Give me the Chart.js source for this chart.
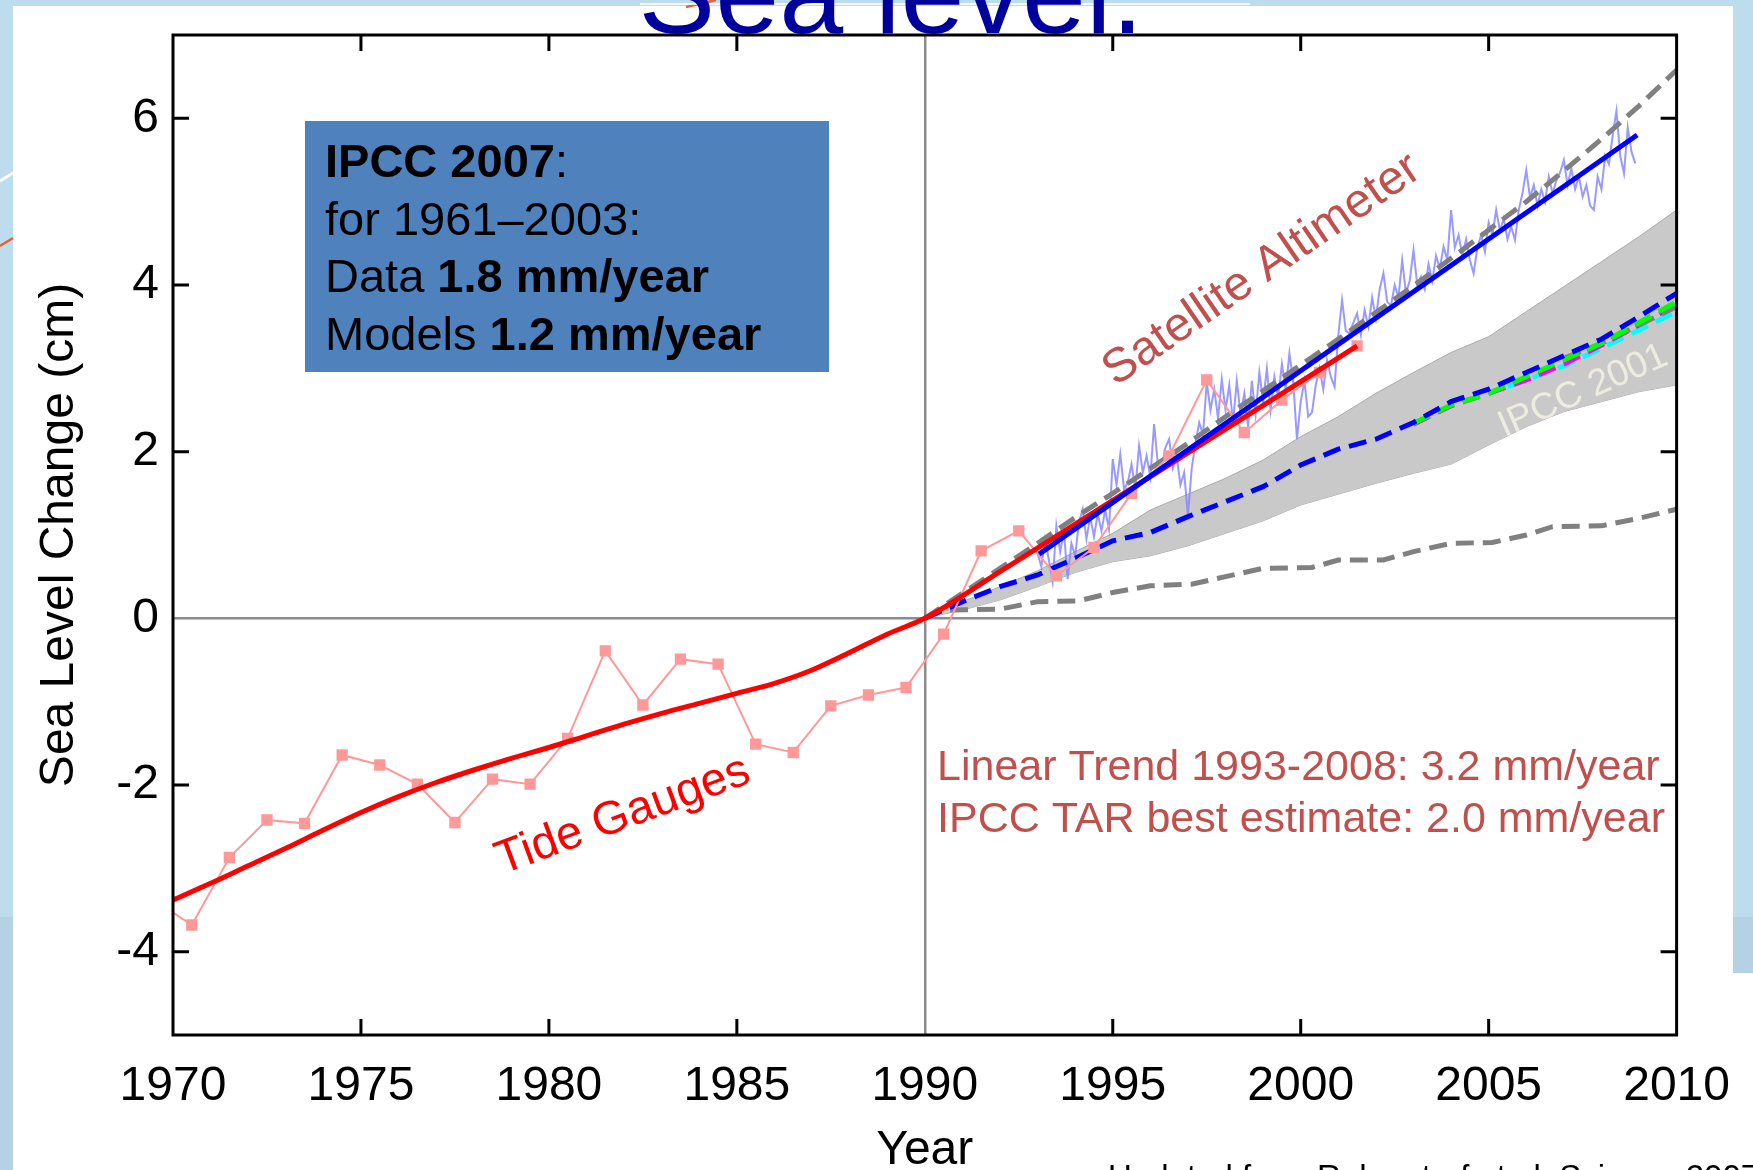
<!DOCTYPE html>
<html><head><meta charset="utf-8">
<script src="https://cdn.jsdelivr.net/npm/chart.js@4.4.1/dist/chart.umd.min.js"></script>
<style>html,body{margin:0;padding:0;background:#fff;}canvas{display:block;}</style>
</head><body>
<canvas id="c" width="1753" height="1170"></canvas>
<script>
// ---------------- DATA ----------------
const yTickValues = [-4, -2, 0, 2, 4, 6];

// Tide gauge annual values (pink squares)
const tideYears = [1969.5,1970.5,1971.5,1972.5,1973.5,1974.5,1975.5,1976.5,1977.5,1978.5,1979.5,1980.5,1981.5,1982.5,1983.5,1984.5,1985.5,1986.5,1987.5,1988.5,1989.5,1990.5,1991.5,1992.5,1993.5,1994.5,1995.5,1996.5,1997.5,1998.5,1999.5,2000.5,2001.5];
const tideValues = [-3.38,-3.68,-2.87,-2.42,-2.46,-1.64,-1.76,-1.99,-2.45,-1.93,-1.99,-1.44,-0.39,-1.04,-0.49,-0.55,-1.51,-1.61,-1.05,-0.92,-0.83,-0.19,0.81,1.05,0.51,0.85,1.50,1.95,2.86,2.23,2.62,2.95,3.27];

// Smoothed tide gauge curve (red)
const tideFitYears = [1970,1971,1972,1973,1974,1975,1976,1977,1978,1979,1980,1981,1982,1983,1984,1985,1986,1987,1988,1989,1990,1992,1994,1996,1998,2000,2001.5];
const tideFitValues = [-3.38,-3.18,-2.97,-2.76,-2.54,-2.33,-2.14,-1.97,-1.82,-1.68,-1.55,-1.41,-1.27,-1.14,-1.02,-0.90,-0.78,-0.62,-0.41,-0.19,0.0,0.56,1.13,1.70,2.27,2.84,3.27];

// Satellite altimeter series (light blue), one value every 0.1 year from 1993.0
const satStartYear = 1993.0;
const satStep = 0.1;
const satValues = [
 0.78,0.62,0.95,0.70,0.44,1.11,0.80,1.05,0.47,0.90,
 0.75,1.15,1.31,0.95,1.22,0.98,1.25,1.05,1.30,1.07,
 1.91,1.60,1.97,1.55,1.63,1.85,1.55,2.07,1.75,1.95,
 1.70,2.33,1.85,1.80,2.05,2.15,1.80,1.95,1.60,1.75,
 1.23,1.80,2.10,2.35,2.20,2.83,2.50,2.75,2.40,2.87,
 2.50,2.80,2.35,2.85,2.45,2.70,2.30,2.85,2.45,2.95,
 2.60,3.00,2.50,2.90,2.65,3.05,2.75,3.18,2.85,2.15,
 2.60,2.85,2.42,2.47,2.80,3.00,2.75,3.10,2.90,2.78,
 3.40,3.82,3.45,3.42,3.55,3.66,3.40,3.70,3.50,3.85,
 3.60,3.95,4.14,3.80,3.75,4.00,3.85,4.30,3.90,4.05,
 4.42,4.00,4.10,3.95,4.25,4.05,4.35,4.20,4.46,4.30,
 4.90,4.45,4.60,4.35,4.55,4.30,4.14,4.45,4.60,4.40,
 4.75,4.60,4.90,4.65,4.80,4.55,4.70,4.54,4.90,5.10,
 5.38,5.05,5.20,4.95,5.15,5.00,5.30,5.10,5.25,5.35,
 5.50,5.20,5.40,5.15,5.30,5.06,5.20,4.95,4.90,5.30,
 5.15,5.55,5.45,5.80,6.09,5.55,5.34,5.89,5.60,5.46
];

// Satellite linear trend (blue solid)
const satTrendYears = [1993.04, 2008.95];
const satTrendValues = [0.77, 5.80];

// IPCC 2001 projections (yearly from 1990)
const modelYears = [1990,1991,1992,1993,1994,1995,1996,1997,1998,1999,2000,2001,2002,2003,2004,2005,2006,2007,2008,2009,2010];
const bandUpper   = [0,0.20,0.38,0.57,0.80,1.02,1.30,1.49,1.68,1.90,2.18,2.42,2.70,2.95,3.19,3.38,3.68,3.98,4.28,4.58,4.90];
const bandLower   = [0,0.10,0.22,0.38,0.55,0.68,0.75,0.87,1.02,1.17,1.36,1.49,1.62,1.74,1.85,2.08,2.30,2.48,2.60,2.72,2.80];
const modelCentral= [0,0.20,0.38,0.52,0.72,0.93,1.03,1.22,1.40,1.58,1.84,2.03,2.15,2.35,2.60,2.75,2.95,3.15,3.35,3.62,3.90];
const upperDashed = [0,0.30,0.60,0.90,1.21,1.50,1.80,2.10,2.42,2.73,3.04,3.35,3.67,3.99,4.32,4.66,5.00,5.37,5.75,6.15,6.58];

const lowerDashYears  = [1990,1990.5,1992,1993,1994.1,1995,1996,1997.1,1998,1999,2000.3,2001,2002.2,2003,2004,2005.1,2006,2006.7,2008,2009,2010];
const lowerDashValues = [0,0.10,0.11,0.20,0.21,0.31,0.39,0.41,0.50,0.60,0.61,0.70,0.70,0.80,0.90,0.91,1.00,1.10,1.11,1.20,1.31];

// Recent model runs (coloured dashes)
const runYears     = [2003,2004,2005,2006,2007,2008,2009,2010];
const greenValues  = [2.34,2.56,2.70,2.90,3.10,3.30,3.55,3.80];
const magentaValues= [2.33,2.55,2.70,2.86,3.05,3.28,3.52,3.76];
const grayRunYears = [2007,2008,2009,2010];
const grayRunValues= [3.12,3.30,3.52,3.74];
const cyanYears    = [2005.5,2006,2007,2008,2009,2010];
const cyanValues   = [2.78,2.86,3.03,3.24,3.46,3.68];

// ---------------- HELPERS ----------------
const pts = (xs, ys) => xs.map((x, i) => ({x: x, y: ys[i]}));
const satPoints = satValues.map((v, i) => ({x: +(satStartYear + i * satStep).toFixed(2), y: v}));
const FONT = "'Liberation Sans', Arial, sans-serif";
const DASH = [18, 9];

function line(label, data, color, width, order, extra) {
  return Object.assign({label, data, borderColor: color, borderWidth: width, pointRadius: 0,
    fill: false, tension: 0, order, clip: 0}, extra || {});
}

// ---------------- PLUGINS ----------------
const bgPlugin = {
  id: 'bg',
  beforeDraw(chart) {
    const c = chart.ctx;
    c.save();
    c.fillStyle = '#bddced'; c.fillRect(0, 0, 1753, 1170);
    c.fillStyle = '#b5d1e5'; c.fillRect(0, 917, 13, 253);
    c.fillStyle = '#ffffff'; c.fillRect(13, 6, 1720, 1164);
    c.fillStyle = '#b5d1e5'; c.fillRect(1733, 917, 20, 56);
    c.fillStyle = '#ffffff'; c.fillRect(1733, 973, 20, 197);
    // slide decorations
    c.strokeStyle = '#ffffff'; c.lineWidth = 3;
    c.beginPath(); c.moveTo(0, 181); c.lineTo(13, 173); c.stroke();
    c.strokeStyle = '#e8602c'; c.lineWidth = 2.5;
    c.beginPath(); c.moveTo(0, 246); c.lineTo(13, 238); c.stroke();
    c.beginPath(); c.moveTo(686, 7); c.lineTo(716, 0); c.stroke();
    c.strokeStyle = 'rgba(255,255,255,0.8)'; c.lineWidth = 2;
    c.beginPath(); c.moveTo(640, 4); c.lineTo(1250, 4); c.stroke();
    c.restore();
  }
};

function richLine(c, segs, x, y, size) {
  let cx = x;
  segs.forEach(s => {
    c.font = (s.b ? 'bold ' : '') + size + 'px ' + FONT;
    c.fillText(s.t, cx, y);
    cx += c.measureText(s.t).width;
  });
}

function rotText(c, text, x, y, angleDeg, size, color) {
  c.save();
  c.translate(x, y);
  c.rotate(angleDeg * Math.PI / 180);
  c.font = size + 'px ' + FONT;
  c.fillStyle = color;
  c.textAlign = 'center';
  c.textBaseline = 'middle';
  c.fillText(text, 0, 0);
  c.restore();
}

const overlayPlugin = {
  id: 'overlay',
  afterDraw(chart) {
    const c = chart.ctx;
    const a = chart.chartArea;
    const xs = chart.scales.x, ys = chart.scales.y;
    c.save();
    // frame
    c.strokeStyle = '#000'; c.lineWidth = 3;
    c.strokeRect(a.left, a.top, a.right - a.left, a.bottom - a.top);
    // inward ticks
    const TL = 16;
    c.lineWidth = 3;
    xs.ticks.forEach(t => {
      if (t.value <= 1970 || t.value >= 2010 || t.value === 1990) return;
      const px = xs.getPixelForValue(t.value);
      c.beginPath();
      c.moveTo(px, a.bottom); c.lineTo(px, a.bottom - TL);
      c.moveTo(px, a.top); c.lineTo(px, a.top + TL);
      c.stroke();
    });
    ys.ticks.forEach(t => {
      if (t.value === 0) return;
      const py = ys.getPixelForValue(t.value);
      c.beginPath();
      c.moveTo(a.left, py); c.lineTo(a.left + TL, py);
      c.moveTo(a.right, py); c.lineTo(a.right - TL, py);
      c.stroke();
    });

    // slide title (partly cut off by the top)
    c.fillStyle = '#00009c';
    c.font = '115px ' + FONT;
    c.textAlign = 'center';
    c.textBaseline = 'alphabetic';
    c.fillText('Sea level.', 891, 33);

    // info box
    c.fillStyle = '#4f81bd';
    c.fillRect(305, 121, 524, 251);
    c.fillStyle = '#000';
    c.textAlign = 'left';
    richLine(c, [{t: 'IPCC 2007', b: true}, {t: ':', b: false}], 325, 177, 47);
    richLine(c, [{t: 'for 1961\u20132003:', b: false}], 325, 235, 47);
    richLine(c, [{t: 'Data ', b: false}, {t: '1.8 mm/year', b: true}], 325, 292, 47);
    richLine(c, [{t: 'Models ', b: false}, {t: '1.2 mm/year', b: true}], 325, 350, 47);

    // annotations
    rotText(c, 'Satellite Altimeter', 1262, 270, -34.5, 48, '#c0504d');
    rotText(c, 'Tide Gauges', 623, 816, -20.3, 47, '#ff0000');
    rotText(c, 'IPCC 2001', 1583, 391, -24, 37, '#eeece1');

    c.fillStyle = '#c0504d';
    c.font = '43px ' + FONT;
    c.textAlign = 'left';
    c.fillText('Linear Trend 1993-2008: 3.2 mm/year', 937, 780);
    c.fillText('IPCC TAR best estimate: 2.0 mm/year', 937, 832);

    // source line (mostly below the visible area)
    c.fillStyle = '#000';
    c.font = '33px ' + FONT;
    c.fillText('Updated from Rahmstorf et al. Science 2007', 1108, 1188);
    c.restore();
  }
};

// ---------------- CHART ----------------
new Chart(document.getElementById('c'), {
  type: 'line',
  data: {
    datasets: [
      line('IPCC 2001 lower', pts(modelYears, bandLower), '#a9a9a9', 1, 100),
      line('IPCC 2001 upper', pts(modelYears, bandUpper), '#a9a9a9', 1, 99, {fill: '-1', backgroundColor: '#c9c9c9'}),
      line('Lower projection', pts(lowerDashYears, lowerDashValues), '#808080', 5, 90, {borderDash: DASH}),
      line('Satellite altimeter', satPoints, 'rgba(135,135,255,0.85)', 2, 80),
      line('Upper projection', pts(modelYears, upperDashed), '#808080', 5, 75, {borderDash: DASH}),
      line('Run cyan', pts(cyanYears, cyanValues), '#00ffff', 5, 70, {borderDash: DASH}),
      line('Run magenta', pts(runYears, magentaValues), '#ff00ff', 5, 69, {borderDash: DASH}),
      line('Run gray', pts(grayRunYears, grayRunValues), '#808080', 5, 68.5, {borderDash: DASH}),
      line('Run green', pts(runYears, greenValues), '#00ff00', 5, 68, {borderDash: DASH}),
      line('Model central', pts(modelYears, modelCentral), '#0000ff', 5, 65, {borderDash: DASH}),
      line('Tide gauges', pts(tideYears, tideValues), '#ff9999', 2, 60,
        {pointRadius: 8, pointStyle: 'rect', pointBackgroundColor: '#ff9999', pointBorderWidth: 0}),
      line('Tide gauge fit', pts(tideFitYears, tideFitValues), '#ff0000', 5, 50, {cubicInterpolationMode: 'monotone'}),
      line('Satellite trend', pts(satTrendYears, satTrendValues), '#0000ff', 5, 40)
    ]
  },
  options: {
    responsive: false,
    animation: false,
    devicePixelRatio: 1,
    layout: {padding: {left: 0, top: 35, right: 75, bottom: 0}},
    plugins: {legend: {display: false}, tooltip: {enabled: false}},
    scales: {
      x: {
        type: 'linear', min: 1970, max: 2010,
        ticks: {stepSize: 5, color: '#000', padding: 23, maxRotation: 0, autoSkip: false,
          font: {family: FONT, size: 48}, callback: v => String(v)},
        grid: {drawTicks: false, lineWidth: 2.5,
          color: ctx => (ctx.tick && ctx.tick.value === 1990) ? '#8c8c8c' : 'rgba(0,0,0,0)'},
        border: {display: false},
        title: {display: true, text: 'Year', color: '#000', font: {family: FONT, size: 48, lineHeight: 0.75},
          padding: {top: 0, bottom: 1}},
        afterFit: s => { s.height = 135; }
      },
      y: {
        min: -5, max: 7,
        afterBuildTicks: s => { s.ticks = yTickValues.map(v => ({value: v})); },
        ticks: {color: '#000', padding: 14, font: {family: FONT, size: 48, lineHeight: 0.5}, callback: v => String(v)},
        grid: {drawTicks: false, lineWidth: 2.5,
          color: ctx => (ctx.tick && ctx.tick.value === 0) ? '#8c8c8c' : 'rgba(0,0,0,0)'},
        border: {display: false},
        title: {display: true, text: 'Sea Level Change (cm)', color: '#000', font: {family: FONT, size: 48},
          padding: {top: 31, bottom: 0}},
        afterFit: s => { s.width = 173; }
      }
    }
  },
  plugins: [bgPlugin, overlayPlugin]
});
</script>
</body></html>
